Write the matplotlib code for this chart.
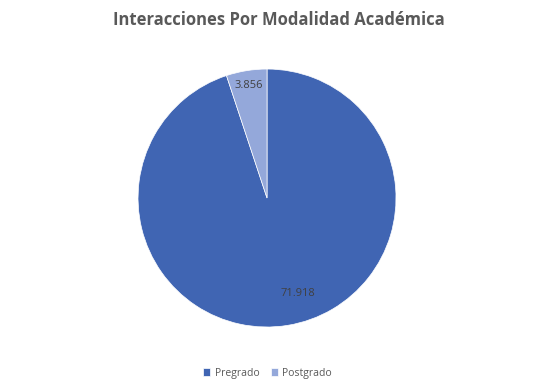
import matplotlib.pyplot as plt
import numpy as np

# datos
categorias = ["Pregrado", "Postgrado"]
valores = [71918, 3856]
etiquetas = ["71.918", "3.856"]
colores = ["#4065B3", "#94A8DA"]

plt.rcParams['font.family'] = ['Open Sans', 'DejaVu Sans']

fig = plt.figure(figsize=(5.47, 3.9), dpi=100)
ax = fig.add_axes([0.2523, 0.1615, 0.4717, 0.6615])

wedges, _ = ax.pie(valores, colors=colores, startangle=90, counterclock=False,
                   wedgeprops=dict(edgecolor="white", linewidth=0.5))
ax.set_xlim(-1, 1)
ax.set_ylim(-1, 1)
ax.set_aspect("equal")

# etiquetas de datos
dist = [0.78, 0.88]
for w, txt, d in zip(wedges, etiquetas, dist):
    ang = np.deg2rad((w.theta1 + w.theta2) / 2)
    if d < 0.8:
        ang = ang + np.deg2rad(9)
    ax.text(d * np.cos(ang), d * np.sin(ang), txt, ha="center", va="center",
            fontsize=8, color="#404040")

fig.text(0.51, 0.948, "Interacciones Por Modalidad Académica", ha="center", va="center",
         fontsize=12, fontweight="bold", color="#595959")

ax.legend(wedges, categorias, loc="center", bbox_to_anchor=(0.489, 0.043),
          bbox_transform=fig.transFigure, ncol=2, frameon=False, fontsize=7.5,
          handlelength=0.7, handleheight=0.7, handletextpad=0.4, columnspacing=1.1,
          labelcolor="#595959")

fig.savefig("out.png", dpi=100)
